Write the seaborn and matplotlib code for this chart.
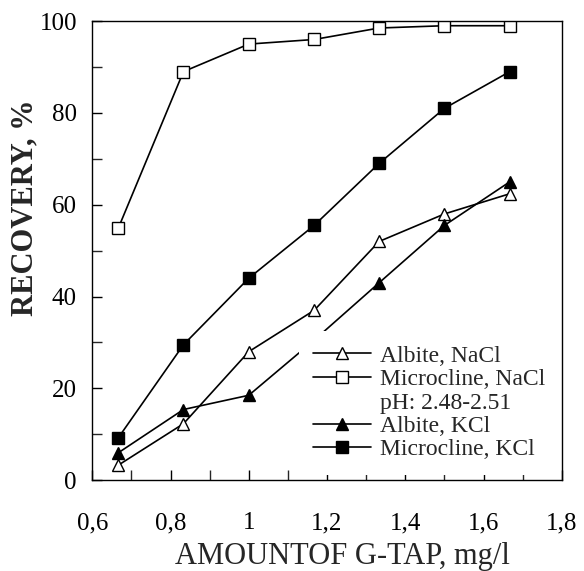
import matplotlib
matplotlib.use("Agg")
import matplotlib.pyplot as plt
from matplotlib.lines import Line2D
from matplotlib.ticker import MultipleLocator
import seaborn as sns
import pandas as pd

# ---- data ----
gtap = [0.667, 0.833, 1.0, 1.167, 1.333, 1.5, 1.667]
albite_nacl = [3.3, 12.3, 28.0, 37.0, 52.0, 58.0, 62.4]
microcline_nacl = [55.0, 89.0, 95.0, 96.0, 98.5, 99.0, 99.0]
albite_kcl = [6.0, 15.4, 18.5, 30.5, 43.0, 55.5, 65.0]
microcline_kcl = [9.3, 29.5, 44.0, 55.5, 69.0, 81.0, 89.0]
series_names = ["Albite, NaCl", "Microcline, NaCl", "Albite, KCl", "Microcline, KCl"]
note = "pH: 2.48-2.51"
xtick_vals = [0.6, 0.8, 1.0, 1.2, 1.4, 1.6, 1.8]
xtick_labels = ["0,6", "0,8", "1", "1,2", "1,4", "1,6", "1,8"]
ytick_vals = [0, 20, 40, 60, 80, 100]

sns.set_style("ticks")
plt.rcParams['font.family'] = ['Liberation Serif', 'DejaVu Serif']
plt.rcParams['xtick.direction'] = 'in'
plt.rcParams['ytick.direction'] = 'in'

fig = plt.figure(figsize=(5.84, 5.71), dpi=100)
ax = fig.add_axes([0.158, 0.159, 0.804, 0.804])

values = [albite_nacl, microcline_nacl, albite_kcl, microcline_kcl]
markers = ["^", "s", "^", "s"]
faces = ["white", "white", "black", "black"]
msizes = [9, 8, 9, 8]

handles = []
for name, vals, m, fc, ms in zip(series_names, values, markers, faces, msizes):
    df = pd.DataFrame({"x": gtap, "y": vals})
    sns.lineplot(data=df, x="x", y="y", ax=ax, color="black", lw=1.2,
                 marker=m, markersize=ms, markerfacecolor=fc,
                 markeredgecolor="black", markeredgewidth=1.0, zorder=3)
    handles.append(Line2D([], [], color="black", lw=1.2, marker=m, markersize=ms,
                          markerfacecolor=fc, markeredgecolor="black",
                          markeredgewidth=1.0))

empty = Line2D([], [], color="none")
leg_handles = [handles[0], handles[1], empty, handles[2], handles[3]]
leg_labels = [series_names[0], series_names[1], note, series_names[2], series_names[3]]
leg = ax.legend(leg_handles, leg_labels, loc="upper left",
                bbox_to_anchor=(0.44, 0.325), frameon=True, fontsize=17,
                handlelength=2.45, handletextpad=0.38, labelspacing=0.08,
                borderpad=0.6, borderaxespad=0.0)
leg.get_frame().set_edgecolor("none")
leg.get_frame().set_facecolor("white")
leg.get_frame().set_alpha(1.0)
leg.set_zorder(5)

ax.set_xlim(0.6, 1.8)
ax.set_ylim(0, 100)
ax.set_xticks(xtick_vals)
ax.set_xticklabels(xtick_labels)
ax.set_yticks(ytick_vals)
ax.xaxis.set_minor_locator(MultipleLocator(0.1))
ax.yaxis.set_minor_locator(MultipleLocator(10))
ax.tick_params(which="major", length=7, width=1, labelsize=18, colors="black")
ax.tick_params(which="minor", length=7, width=1)
ax.tick_params(axis="y", pad=11)
ax.tick_params(axis="x", pad=23)
for s in ax.spines.values():
    s.set_linewidth(1.0)
    s.set_color("black")
    s.set_zorder(6)

ax.set_xlabel("AMOUNTOF G-TAP, mg/l", fontsize=22)
ax.xaxis.set_label_coords(0.532, -0.135, transform=ax.transAxes)
ax.set_ylabel("RECOVERY, %", fontsize=22, fontweight="bold")
ax.yaxis.set_label_coords(-0.112, 0.593, transform=ax.transAxes)

fig.savefig("out.png", dpi=100)
